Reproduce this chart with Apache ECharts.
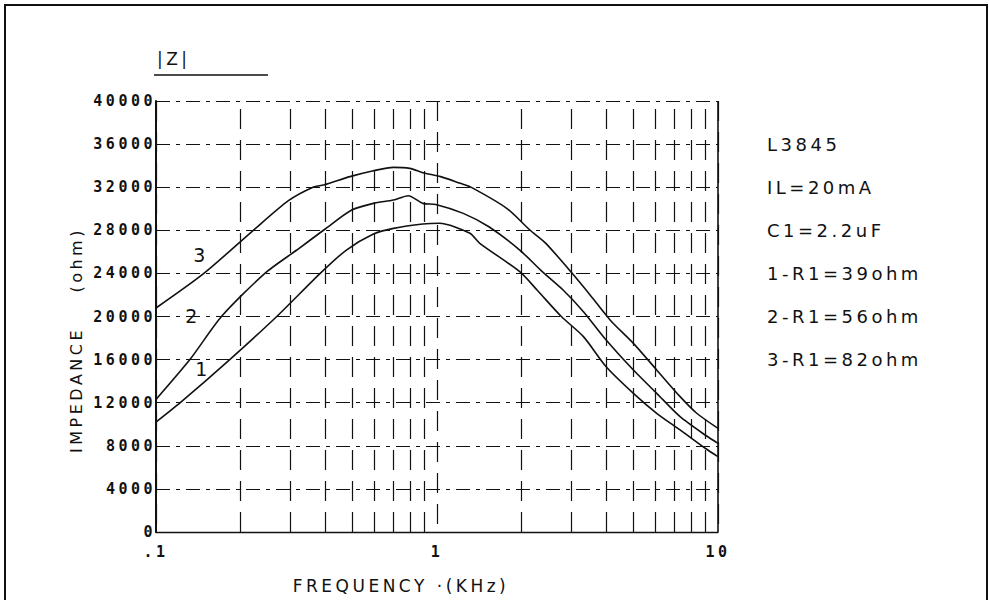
<!DOCTYPE html>
<html>
<head>
<meta charset="utf-8">
<script src="https://cdn.jsdelivr.net/npm/echarts@6/dist/echarts.min.js"></script>
<style>
html, body { margin: 0; padding: 0; background: #fff; }
#chart { width: 989px; height: 600px; }
#chart text { letter-spacing: 3.5px; }
</style>
</head>
<body>
<div id="chart"></div>
<script>
// ---- data ----
const xTickValues = [0.1, 1, 10];
const xTickLabels = ['.1', '1', '10'];
const minorFreqs = [0.2, 0.3, 0.4, 0.5, 0.6, 0.7, 0.8, 0.9, 2, 3, 4, 5, 6, 7, 8, 9];

// curve 1 : R1 = 39 ohm
const freq1 = [0.1, 0.122, 0.183, 0.269, 0.384, 0.476, 0.594, 0.70, 0.89, 1.02, 1.31, 1.42, 1.97, 2.27, 2.77, 3.32, 4.0, 5.0, 6.05, 7.33, 9.0, 10];
const imp1  = [10200, 12000, 16000, 20000, 24000, 26170, 27660, 28180, 28580, 28650, 27720, 26790, 24160, 22460, 20000, 18130, 15340, 12870, 11020, 9470, 7770, 6990];

// curve 2 : R1 = 56 ohm
const freq2 = [0.1, 0.132, 0.171, 0.244, 0.317, 0.4, 0.497, 0.594, 0.70, 0.79, 0.89, 0.99, 1.24, 1.53, 1.97, 2.37, 2.81, 3.32, 4.0, 5.0, 6.05, 7.33, 9.0, 10];
const imp2  = [12300, 16000, 20000, 24000, 26170, 28120, 29880, 30500, 30810, 31210, 30500, 30400, 29570, 28330, 26170, 24160, 22460, 20450, 17820, 15030, 12870, 10700, 9000, 8230];

// curve 3 : R1 = 82 ohm
const freq3 = [0.1, 0.148, 0.222, 0.296, 0.362, 0.395, 0.49, 0.594, 0.70, 0.80, 0.89, 1.03, 1.21, 1.31, 1.77, 2.14, 2.44, 3.32, 4.13, 5.0, 6.05, 7.33, 8.4, 10];
const imp3  = [20790, 24000, 28000, 30750, 32000, 32200, 32980, 33530, 33840, 33750, 33350, 32980, 32360, 32050, 30040, 28030, 26790, 22770, 19680, 17510, 15040, 12560, 11020, 9620];

const curveNames = ['1', '2', '3'];
const infoLines = ['L3845', 'IL=20mA', 'C1=2.2uF', '1-R1=39ohm', '2-R1=56ohm', '3-R1=82ohm'];

// ---- chart ----
const black = '#111';
const mono = '"DejaVu Sans Mono", monospace';
const sans = '"DejaVu Sans", sans-serif';
const pairs = (f, z) => f.map((v, i) => [v, z[i]]);
const xLabel = v => {
  for (let i = 0; i < xTickValues.length; i++) {
    if (Math.abs(Math.log10(v) - Math.log10(xTickValues[i])) < 1e-6) return xTickLabels[i];
  }
  return '';
};
const lineSeries = (name, f, z, extra) => Object.assign({
  name: name,
  type: 'line',
  data: pairs(f, z),
  showSymbol: false,
  smooth: 0.25,
  lineStyle: { color: black, width: 1.6 },
  silent: true
}, extra || {});

const chart = echarts.init(document.getElementById('chart'), null, { renderer: 'svg' });
chart.setOption({
  animation: false,
  backgroundColor: '#fff',
  grid: { left: 156, right: 271, top: 101, bottom: 68, containLabel: false, outerBoundsMode: 'none' },
  xAxis: {
    type: 'log', logBase: 10, min: 0.1, max: 10,
    axisLine: { show: true, onZero: false, lineStyle: { color: black, width: 1.4 } },
    axisTick: { show: false },
    axisLabel: { margin: 12, color: black, fontFamily: mono, fontWeight: 'bold', fontSize: 15, formatter: xLabel, showMinLabel: true, showMaxLabel: true },
    splitLine: { show: true, lineStyle: { color: black, width: 1.2, type: [20, 11] } }
  },
  yAxis: {
    type: 'value', min: 0, max: 40000, interval: 4000,
    axisLine: { show: true, onZero: false, lineStyle: { color: black, width: 2 } },
    axisTick: { show: false },
    axisLabel: { margin: 0, color: black, fontFamily: mono, fontWeight: 'bold', fontSize: 15, formatter: v => String(v) },
    splitLine: { show: true, lineStyle: { color: black, width: 1.2, type: [14, 6, 4, 6] } }
  },
  series: [
    lineSeries(curveNames[0], freq1, imp1, {
      markLine: {
        silent: true, symbol: ['none', 'none'], label: { show: false },
        lineStyle: { color: black, width: 1.2, type: [20, 11] },
        data: minorFreqs.map(v => ({ xAxis: v })).concat([{ xAxis: 10, lineStyle: { type: 'solid', width: 1.6, color: black } }])
      }
    }),
    lineSeries(curveNames[1], freq2, imp2),
    lineSeries(curveNames[2], freq3, imp3)
  ],
  graphic: [
    { type: 'rect', silent: true, z: -10, shape: { x: 5, y: 5, width: 982, height: 600 }, style: { fill: 'none', stroke: black, lineWidth: 2 } },
    { type: 'text', silent: true, x: 157, y: 59, style: { text: '|Z|', font: '17px ' + sans, fill: black, textVerticalAlign: 'middle' } },
    { type: 'line', silent: true, shape: { x1: 154, y1: 75, x2: 268, y2: 75 }, style: { stroke: black, lineWidth: 1.6 } },
    { type: 'text', silent: true, x: 401, y: 586, style: { text: 'FREQUENCY ·(KHz)', font: '17px ' + sans, fill: black, textAlign: 'center', textVerticalAlign: 'middle' } },
    { type: 'text', silent: true, x: 76, y: 340, rotation: Math.PI / 2, style: { text: 'IMPEDANCE    (ohm)', font: '16px ' + sans, fill: black, textAlign: 'center', textVerticalAlign: 'middle' } },
    { type: 'text', silent: true, x: 201, y: 255, style: { text: curveNames[2], font: '19px ' + sans, fill: black, textAlign: 'center', textVerticalAlign: 'middle' } },
    { type: 'text', silent: true, x: 193, y: 316, style: { text: curveNames[1], font: '19px ' + sans, fill: black, textAlign: 'center', textVerticalAlign: 'middle' } },
    { type: 'text', silent: true, x: 203, y: 369, style: { text: curveNames[0], font: '19px ' + sans, fill: black, textAlign: 'center', textVerticalAlign: 'middle' } }
  ].concat(infoLines.map((t, i) => ({
    type: 'text', silent: true, x: 767, y: 144 + i * 43.1,
    style: { text: t, font: '18px ' + sans, fill: black, textVerticalAlign: 'middle' }
  })))
});
</script>
</body>
</html>
